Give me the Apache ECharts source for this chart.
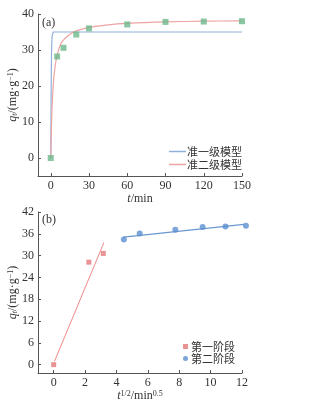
<!DOCTYPE html>
<html><head><meta charset="utf-8">
<script src="https://cdn.jsdelivr.net/npm/echarts@6/dist/echarts.min.js"></script>
<style>html,body{margin:0;padding:0;background:#fff}#c{width:335px;height:407px}</style>
</head><body><div id="c"></div>
<script>
// (a) kinetics data
const timeMin = [0, 5, 10, 20, 30, 60, 90, 120, 150];
const qtExp = [0, 28.2, 30.6, 34.3, 36.0, 37.1, 37.8, 37.9, 38.0];
const pfoT = [0, 0.3, 0.6, 1, 2, 150];
const pfoQ = [0, 17, 29, 33.8, 35, 35];
const psoT = [0, 0.5, 1, 2, 3, 4, 5, 7, 10, 15, 20, 30, 45, 60, 90, 120, 150];
const psoQ = [0, 8, 14, 20.5, 24.3, 26.8, 28.6, 31, 32.8, 34.4, 35.3, 36.3, 37, 37.4, 37.8, 38, 38.1];
const xTicksA = [0, 30, 60, 90, 120, 150];
const yTicksA = [0, 10, 20, 30, 40];
const legendA = ['准一级模型', '准二级模型'];
// (b) intraparticle diffusion data
const sqrtT1 = [0, 2.24, 3.16];
const q1 = [0, 28.2, 30.6];
const sqrtT2 = [4.47, 5.48, 7.75, 9.49, 10.95, 12.25];
const q2 = [34.4, 36.1, 37.1, 37.9, 38.0, 38.2];
const fit1X = [0.05, 3.2];
const fit1Y = [0.9, 33.6];
const fit2X = [4.45, 12.2];
const fit2Y = [35.1, 38.6];
const xTicksB = [0, 2, 4, 6, 8, 10, 12];
const yTicksB = [0, 6, 12, 18, 24, 30, 36, 42];
const legendB = ['第一阶段', '第二阶段'];

const zip = (a, b) => a.map((v, i) => [v, b[i]]);
const serif = 'Liberation Serif';
const cjk = 'Noto Sans CJK SC';
const axisCol = '#555';

function axisCommon(ticks) {
  return {
    axisLine: {show: true, onZero: false, lineStyle: {color: axisCol, width: 1}},
    axisTick: {show: true, inside: true, length: 3, customValues: ticks, lineStyle: {color: axisCol}},
    axisLabel: {customValues: ticks, fontFamily: serif, fontSize: 12, color: '#333', margin: 4},
    splitLine: {show: false}
  };
}

const richName = {
  n: {fontFamily: serif, fontSize: 12, color: '#333'},
  i: {fontFamily: serif, fontSize: 12, fontStyle: 'italic', color: '#333'},
  sub: {fontFamily: serif, fontSize: 8, fontStyle: 'italic', color: '#333', verticalAlign: 'bottom'},
  sup: {fontFamily: serif, fontSize: 8, color: '#333', verticalAlign: 'top'}
};

const chart = echarts.init(document.getElementById('c'), null, {renderer: 'canvas'});
chart.setOption({
  animation: false,
  backgroundColor: '#fff',
  grid: [
    {left: 38, right: 93, top: 14, bottom: 231, containLabel: false, outerBoundsMode: 'none'},
    {left: 38, right: 93, top: 212, bottom: 34, containLabel: false, outerBoundsMode: 'none'}
  ],
  xAxis: [
    Object.assign(axisCommon(xTicksA), {
      type: 'value', gridIndex: 0, min: -10, max: 150,
      name: '{i|t}{n|/min}', nameLocation: 'middle', nameGap: 15,
      nameTextStyle: {rich: richName}
    }),
    Object.assign(axisCommon(xTicksB), {
      type: 'value', gridIndex: 1, min: -1, max: 12,
      name: '{i|t}{sup|1/2}{n|/min}{sup|0.5}', nameLocation: 'middle', nameGap: 10,
      nameTextStyle: {rich: richName}
    })
  ],
  yAxis: [
    Object.assign(axisCommon(yTicksA), {
      type: 'value', gridIndex: 0, min: -5, max: 40,
      name: '{i|q}{sub|t}{n|/(mg·g}{sup|−1}{n|)}', nameLocation: 'middle', nameGap: 19,
      nameMoveOverlap: false,
      nameTextStyle: {rich: richName}
    }),
    Object.assign(axisCommon(yTicksB), {
      type: 'value', gridIndex: 1, min: -2.3, max: 42,
      name: '{i|q}{sub|t}{n|/(mg·g}{sup|−1}{n|)}', nameLocation: 'middle', nameGap: 19,
      nameMoveOverlap: false,
      nameTextStyle: {rich: richName}
    })
  ],
  legend: [
    {
      data: legendA, orient: 'vertical', left: 164, top: 141, itemGap: 2,
      itemWidth: 17, itemHeight: 1.5, icon: 'rect',
      textStyle: {fontFamily: cjk, fontSize: 11, color: '#333', padding: [0, 0, 0, -4]}
    },
    {
      data: [{name: legendB[0], icon: 'rect'}, {name: legendB[1], icon: 'circle'}],
      orient: 'vertical', left: 178, top: 336, itemGap: 1,
      itemWidth: 5, itemHeight: 5,
      textStyle: {fontFamily: cjk, fontSize: 11, color: '#333', padding: [0, 0, 0, -2]}
    }
  ],
  graphic: [
    {type: 'text', left: 42, top: 17, style: {text: '(a)', font: '12px "Liberation Serif"', fill: '#333'}},
    {type: 'text', left: 42, top: 214, style: {text: '(b)', font: '12px "Liberation Serif"', fill: '#333'}}
  ],
  series: [
    {
      name: legendA[0], type: 'line', xAxisIndex: 0, yAxisIndex: 0,
      data: zip(pfoT, pfoQ), showSymbol: false, symbol: 'none',
      lineStyle: {color: '#8fb1d9', width: 1.2}, itemStyle: {color: '#8fb1d9'}, z: 2
    },
    {
      name: legendA[1], type: 'line', xAxisIndex: 0, yAxisIndex: 0,
      data: zip(psoT, psoQ), showSymbol: false, symbol: 'none', smooth: 0.3,
      lineStyle: {color: '#eca3a3', width: 1.2}, itemStyle: {color: '#eca3a3'}, z: 3
    },
    {
      name: '实验值', type: 'scatter', xAxisIndex: 0, yAxisIndex: 0,
      data: zip(timeMin, qtExp), symbol: 'rect', symbolSize: 6,
      itemStyle: {color: '#6cb88a'}, z: 4
    },
    {
      name: 'fit1', type: 'line', xAxisIndex: 1, yAxisIndex: 1,
      data: zip(fit1X, fit1Y), showSymbol: false, symbol: 'none',
      lineStyle: {color: '#f08a8a', width: 1}, z: 2
    },
    {
      name: 'fit2', type: 'line', xAxisIndex: 1, yAxisIndex: 1,
      data: zip(fit2X, fit2Y), showSymbol: false, symbol: 'none', clip: false,
      lineStyle: {color: '#6a97d2', width: 1.2}, z: 2
    },
    {
      name: legendB[0], type: 'scatter', xAxisIndex: 1, yAxisIndex: 1,
      data: zip(sqrtT1, q1), symbol: 'rect', symbolSize: 5,
      itemStyle: {color: '#e5787a'}, z: 4
    },
    {
      name: legendB[1], type: 'scatter', xAxisIndex: 1, yAxisIndex: 1,
      data: zip(sqrtT2, q2), symbol: 'circle', symbolSize: 6, clip: false,
      itemStyle: {color: '#5b8ed0'}, z: 4
    }
  ]
});
</script>
</body></html>
